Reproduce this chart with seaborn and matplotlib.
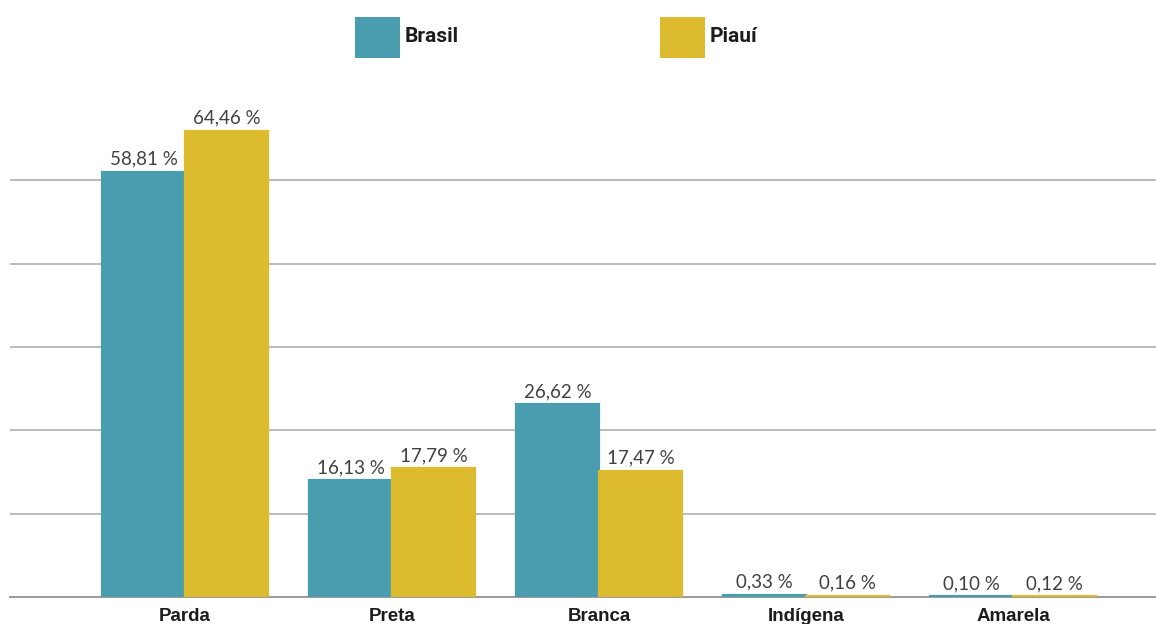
import matplotlib
matplotlib.use("Agg")
import matplotlib.pyplot as plt
from matplotlib.patches import Rectangle
import numpy as np
import pandas as pd
import seaborn as sns

# Population by colour/race (%)
categories = ["Parda", "Preta", "Branca", "Indígena", "Amarela"]
brasil = [58.81, 16.13, 26.62, 0.33, 0.10]
piaui = [64.46, 17.79, 17.47, 0.16, 0.12]
series_names = ["Brasil", "Piauí"]
grid_levels = [11.52, 23.04, 34.56, 46.08, 57.6]

colors = {"Brasil": "#4A9DAE", "Piauí": "#DDBB2F"}

df = pd.DataFrame({
    "categoria": categories * 2,
    "serie": [series_names[0]] * len(categories) + [series_names[1]] * len(categories),
    "valor": brasil + piaui,
})

sns.set_theme(style="white")
plt.rcParams["font.family"] = ["Liberation Sans", "DejaVu Sans"]

fig = plt.figure(figsize=(11.56, 6.24), dpi=100)
ax = fig.add_axes([0.0087, 0.0433, 0.9913, 0.80])

sns.barplot(data=df, x="categoria", y="valor", hue="serie", order=categories,
            hue_order=series_names, palette=colors, width=0.8, saturation=1,
            linewidth=0, legend=False, ax=ax)

# a thin outline in the fill colour keeps the tiny bars visible
for container in ax.containers:
    for bar in container:
        bar.set_edgecolor(bar.get_facecolor())
        bar.set_linewidth(1.6)
        bar.set_zorder(3)

ax.set_ylim(0, 69)
ax.set_xlim(-0.845, 4.69)
ax.set_yticks(grid_levels)
ax.set_yticklabels([])
ax.yaxis.grid(True, color="#b5b5b5", linewidth=1.3)
ax.set_axisbelow(True)
ax.tick_params(axis="y", length=0)
ax.tick_params(axis="x", length=0, pad=8)
for side in ["top", "right", "left"]:
    ax.spines[side].set_visible(False)
ax.spines["bottom"].set_color("#9a9a9a")
ax.spines["bottom"].set_linewidth(1.4)
ax.spines["bottom"].set_zorder(1)
ax.set_xlabel("")
ax.set_ylabel("")
for lbl in ax.get_xticklabels():
    lbl.set_fontweight("bold")
    lbl.set_fontsize(13.5)
    lbl.set_color("#1c1c1c")

# Value labels above each bar
for container in ax.containers:
    vals = [b.get_height() for b in container]
    ax.bar_label(container, labels=[f"{v:.2f} %".replace(".", ",") for v in vals],
                 padding=3, fontsize=13.5, color="#404040", family="Lato")

# Legend drawn as squares with bold text
W, H = 1156, 624
for x0, name in [(355, "Brasil"), (660, "Piauí")]:
    fig.patches.append(Rectangle((x0 / W, 1 - 58 / H), 45 / W, 41 / H,
                                 transform=fig.transFigure,
                                 facecolor=colors[name], edgecolor="none"))
    fig.text((x0 + 50) / W, 1 - 36 / H, name, fontsize=15, fontweight="bold",
             color="#1c1c1c", va="center", ha="left", family="Roboto")

fig.savefig("out.png", dpi=100)
